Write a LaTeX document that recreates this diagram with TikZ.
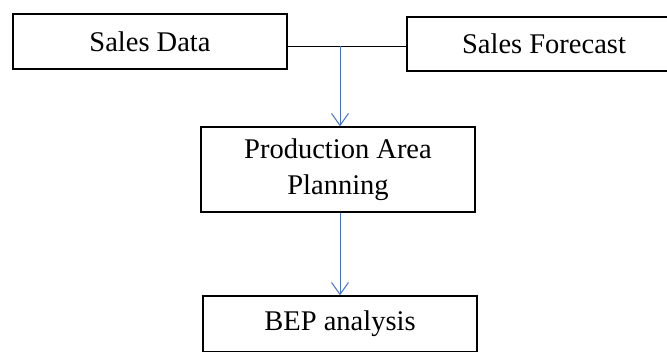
\documentclass[tikz,border=0pt]{standalone}
\usepackage{fontspec}
\setmainfont{Liberation Serif}
\usetikzlibrary{arrows.meta}
\definecolor{linkblue}{RGB}{68,114,196}
\tikzset{
  box/.style={draw=black, line width=1.4pt, rectangle, minimum width=274pt, inner sep=0pt,
    align=center, font=\fontsize{28.5}{36}\selectfont},
  blink/.style={draw=linkblue, line width=1pt, -{Straight Barb[length=12pt,width=17pt,line width=1pt]}},
  klink/.style={draw=black, line width=1pt}
}
\begin{document}
\begin{tikzpicture}[x=1pt,y=-1pt]
\useasboundingbox (0,0) rectangle (667,351);
\clip (0,0) rectangle (667,351);
\node[box, minimum height=55pt] (sd) at (150,41.5) {Sales Data};
\node[box, minimum height=54pt] (sf) at (544,44) {Sales Forecast};
\node[box, minimum height=85pt] (pa) at (338,169.5) {Production Area\\Planning};
\node[box, minimum height=56pt] (bep) at (340,324) {BEP analysis};
\coordinate (j) at (340,46);
\draw[klink] (j -| sd.east) -- (j -| sf.west);
\draw[blink] (j) -- (j |- pa.north);
\draw[blink] (pa.south -| j) -- (j |- bep.north);
\end{tikzpicture}
\end{document}
